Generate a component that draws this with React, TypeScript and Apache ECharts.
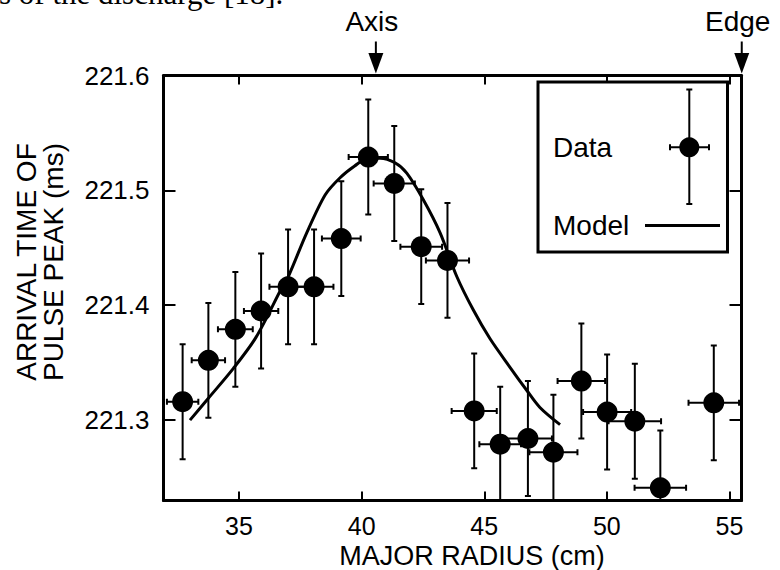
import React, { useEffect, useRef } from "react";
import * as echarts from "echarts";

// ---- data ----
const radius = [32.70, 33.75, 34.85, 35.90, 37.00, 38.06, 39.17, 40.27, 41.33, 42.43, 43.50, 44.59, 45.65, 46.78, 47.82, 48.96, 50.01, 51.14, 52.18, 54.36];
const arrival = [221.316, 221.352, 221.379, 221.395, 221.416, 221.416, 221.458, 221.529, 221.506, 221.451, 221.439, 221.308, 221.279, 221.284, 221.272, 221.334, 221.307, 221.299, 221.241, 221.315];
const radiusErr = [0.64, 0.68, 0.71, 0.70, 0.76, 0.79, 0.79, 0.80, 0.84, 0.85, 0.88, 0.92, 0.85, 0.98, 0.98, 0.97, 0.98, 1.07, 1.05, 1.03];
const arrivalErr = [0.05, 0.05, 0.05, 0.05, 0.05, 0.05, 0.05, 0.05, 0.05, 0.05, 0.05, 0.05, 0.05, 0.05, 0.05, 0.05, 0.05, 0.05, 0.05, 0.05];

const modelRadius = [33.00, 33.75, 34.77, 35.69, 36.74, 37.01, 37.76, 38.51, 39.12, 39.70, 40.26, 40.75, 41.36, 41.84, 42.51, 43.20, 43.88, 44.55, 45.23, 46.05, 46.73, 47.27, 48.09];
const modelArrival = [221.300, 221.319, 221.345, 221.372, 221.415, 221.425, 221.463, 221.496, 221.511, 221.521, 221.528, 221.528, 221.524, 221.515, 221.492, 221.463, 221.425, 221.396, 221.371, 221.346, 221.326, 221.311, 221.296];

const xMin = 31.92;
const xMax = 55.49;
const yMin = 221.23;
const yMax = 221.6;

const annotationLabels = ["Axis", "Edge"];
const annotationRadius = [40.58, 55.5];

const xTitle = "MAJOR RADIUS (cm)";
const yTitle = "ARRIVAL TIME OF\nPULSE PEAK (ms)";
const legendLabels = ["Data", "Model"];
const headerFragment = "s of the discharge [18].";

const SANS = '"Liberation Sans", Arial, Helvetica, sans-serif';
const SERIF = '"Liberation Serif", "Times New Roman", serif';

const isMultiple = (v: number, step: number) => {
  const q = v / step;
  return Math.abs(q - Math.round(q)) < 1e-6;
};

export default function App() {
  const ref = useRef<HTMLDivElement>(null);

  useEffect(() => {
    if (!ref.current) return;
    const chart = echarts.init(ref.current, null, { renderer: "svg" });

    const axisLine = { show: true, onZero: false, lineStyle: { color: "#000", width: 3 } };
    const tickStyle = { color: "#000", width: 2 };
    const xLabel = {
      show: true,
      color: "#000",
      fontSize: 25,
      lineHeight: 22,
      fontFamily: SANS,
      margin: 14,
      formatter: (v: number) => (isMultiple(v, 5) ? String(Math.round(v)) : ""),
    };
    const yLabel = {
      show: true,
      color: "#000",
      fontSize: 26,
      fontFamily: SANS,
      margin: 14,
      formatter: (v: number) => (isMultiple(v, 0.1) ? v.toFixed(1) : ""),
    };

    const points = radius.map((x, i) => [x, arrival[i], radiusErr[i], arrivalErr[i]]);

    chart.setOption({
      animation: false,
      backgroundColor: "#fff",
      grid: { left: 163.5, right: 38.5, top: 75.5, bottom: 69.5, containLabel: false },
      xAxis: [
        {
          type: "value", min: xMin, max: xMax, splitNumber: 5, position: "bottom",
          axisLine, axisTick: { show: true, inside: true, length: 9, lineStyle: tickStyle },
          axisLabel: xLabel, splitLine: { show: false },
        },
        {
          type: "value", min: xMin, max: xMax, splitNumber: 5, position: "top",
          axisLine, axisTick: { show: true, inside: true, length: 9, lineStyle: tickStyle },
          axisLabel: { show: false }, splitLine: { show: false },
        },
      ],
      yAxis: [
        {
          type: "value", min: yMin, max: yMax, splitNumber: 5, position: "left",
          axisLine, axisTick: { show: true, inside: true, length: 12, lineStyle: tickStyle },
          axisLabel: yLabel, splitLine: { show: false },
        },
        {
          type: "value", min: yMin, max: yMax, splitNumber: 5, position: "right",
          axisLine, axisTick: { show: true, inside: true, length: 12, lineStyle: tickStyle },
          axisLabel: { show: false }, splitLine: { show: false },
        },
      ],
      series: [
        {
          name: "Model",
          type: "line",
          data: modelRadius.map((x, i) => [x, modelArrival[i]]),
          showSymbol: false,
          symbol: "none",
          smooth: 0.3,
          lineStyle: { color: "#000", width: 3 },
          z: 2,
        },
        {
          name: "Data errors",
          type: "custom",
          clip: true,
          data: points,
          encode: { x: 0, y: 1 },
          renderItem: (params: any, api: any) => {
            const x = api.value(0);
            const y = api.value(1);
            const ex = api.value(2);
            const ey = api.value(3);
            const top = api.coord([x, y + ey]);
            const bot = api.coord([x, y - ey]);
            const l = api.coord([x - ex, y]);
            const r = api.coord([x + ex, y]);
            const cap = 3;
            const style = { stroke: "#000", lineWidth: 2 };
            const ln = (x1: number, y1: number, x2: number, y2: number) => ({
              type: "line", shape: { x1, y1, x2, y2 }, style,
            });
            return {
              type: "group",
              children: [
                ln(top[0], top[1], bot[0], bot[1]),
                ln(top[0] - cap, top[1], top[0] + cap, top[1]),
                ln(bot[0] - cap, bot[1], bot[0] + cap, bot[1]),
                ln(l[0], l[1], r[0], r[1]),
                ln(l[0], l[1] - cap, l[0], l[1] + cap),
                ln(r[0], r[1] - cap, r[0], r[1] + cap),
              ],
            };
          },
          z: 3,
        },
        {
          name: "Data",
          type: "scatter",
          data: radius.map((x, i) => [x, arrival[i]]),
          symbol: "circle",
          symbolSize: 21,
          itemStyle: { color: "#000", opacity: 1 },
          z: 4,
        },
      ],
    });

    const lineStyle2 = { stroke: "#000", lineWidth: 2 };
    const graphics: any[] = [
      {
        type: "text", x: -1, y: -6.5,
        style: { text: headerFragment, font: `31px ${SERIF}`, fill: "#000", align: "left", verticalAlign: "middle" },
      },
      {
        type: "text", x: 39.5, y: 262, rotation: Math.PI / 2,
        style: { text: yTitle, font: `28px ${SANS}`, fill: "#000", align: "center", verticalAlign: "middle", lineHeight: 27 },
      },
      {
        type: "text", x: 472, y: 555.5,
        style: { text: xTitle, font: `27px ${SANS}`, fill: "#000", align: "center", verticalAlign: "middle", lineHeight: 24 },
      },
    ];

    annotationRadius.forEach((v, i) => {
      const px = chart.convertToPixel({ xAxisIndex: 0 }, v) as number;
      graphics.push(
        {
          type: "text", x: px - 4, y: 21,
          style: { text: annotationLabels[i], font: `28px ${SANS}`, fill: "#000", align: "center", verticalAlign: "middle" },
        },
        { type: "line", shape: { x1: px, y1: 41.5, x2: px, y2: 56 }, style: lineStyle2 },
        {
          type: "polygon",
          shape: { points: [[px - 7.5, 53], [px + 7.5, 53], [px, 73.5]] },
          style: { fill: "#000" },
        }
      );
    });

    // legend box
    const lz = 100;
    const lx = 689.3;
    const ly = 147.3;
    graphics.push(
      {
        type: "rect", z: lz,
        shape: { x: 538, y: 82, width: 189.5, height: 170 },
        style: { fill: "#fff", stroke: "#000", lineWidth: 3 },
      },
      {
        type: "text", z: lz + 1, x: 553, y: 147,
        style: { text: legendLabels[0], font: `28px ${SANS}`, fill: "#000", align: "left", verticalAlign: "middle" },
      },
      { type: "line", z: lz + 1, shape: { x1: lx, y1: 89.5, x2: lx, y2: 204 }, style: lineStyle2 },
      { type: "line", z: lz + 1, shape: { x1: lx - 3, y1: 89.5, x2: lx + 3, y2: 89.5 }, style: lineStyle2 },
      { type: "line", z: lz + 1, shape: { x1: lx - 3, y1: 204, x2: lx + 3, y2: 204 }, style: lineStyle2 },
      { type: "line", z: lz + 1, shape: { x1: 670, y1: ly, x2: 709, y2: ly }, style: lineStyle2 },
      { type: "line", z: lz + 1, shape: { x1: 670, y1: ly - 3, x2: 670, y2: ly + 3 }, style: lineStyle2 },
      { type: "line", z: lz + 1, shape: { x1: 709, y1: ly - 3, x2: 709, y2: ly + 3 }, style: lineStyle2 },
      { type: "circle", z: lz + 2, shape: { cx: lx, cy: ly, r: 10 }, style: { fill: "#000" } },
      {
        type: "text", z: lz + 1, x: 553, y: 225.5,
        style: { text: legendLabels[1], font: `28px ${SANS}`, fill: "#000", align: "left", verticalAlign: "middle" },
      },
      { type: "line", z: lz + 1, shape: { x1: 645, y1: 225.5, x2: 720, y2: 225.5 }, style: { stroke: "#000", lineWidth: 3 } }
    );

    chart.setOption({ graphic: graphics });

    return () => {
      chart.dispose();
    };
  }, []);

  return (
    <div
      ref={ref}
      style={{ position: "fixed", left: 0, top: 0, width: 780, height: 570, background: "#fff" }}
    />
  );
}
